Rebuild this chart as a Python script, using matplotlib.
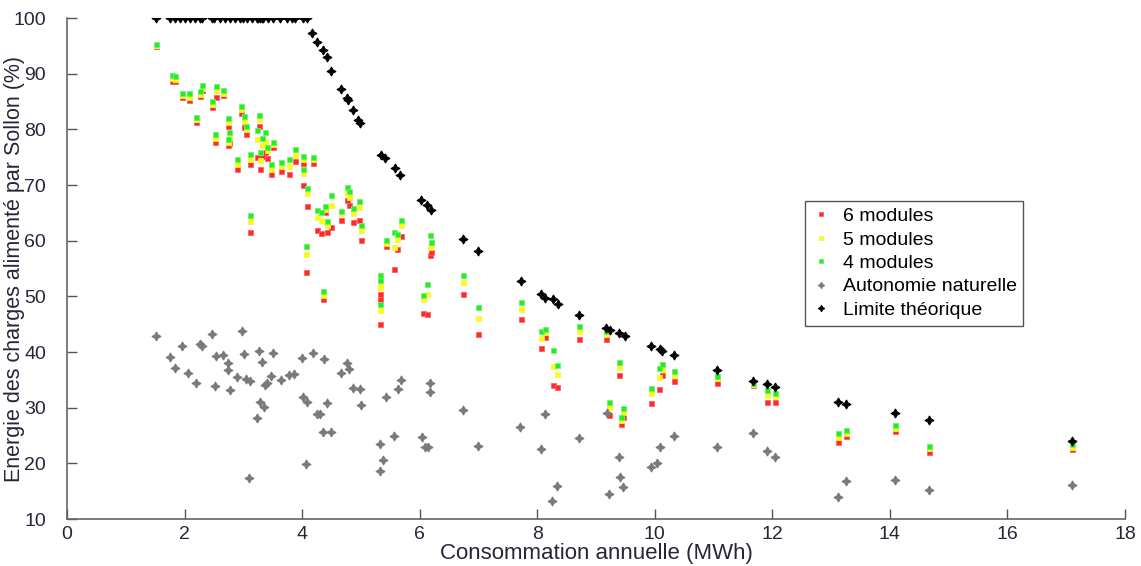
import matplotlib
matplotlib.use("Agg")
import matplotlib.pyplot as plt

plt.rcParams["font.family"] = ["Liberation Sans", "DejaVu Sans"]

# households with storage: consumption (MWh) and % energy supplied
x_mod = [1.52, 1.78, 1.84, 1.95, 2.07, 2.19, 2.27, 2.29, 2.46, 2.53, 2.52, 2.66,
         2.74, 2.76, 2.74, 2.89, 2.96, 3.01, 3.04, 3.11, 3.12, 3.24, 3.27, 3.29,
         3.31, 3.37, 3.41, 3.47, 3.50, 3.64, 3.78, 3.88, 4.01, 4.02, 4.06, 4.08,
         4.18, 4.25, 4.33, 4.35, 4.39, 4.42, 4.49, 4.67, 4.77, 4.79, 4.87, 4.97,
         5.00, 5.32, 5.33, 5.32, 5.43, 5.57, 5.62, 5.69, 6.05, 6.12, 6.18, 6.20,
         6.73, 7.00, 7.72, 8.07, 8.13, 8.26, 8.34, 8.71, 9.17, 9.22, 9.39, 9.42,
         9.46, 9.94, 10.07, 10.12, 10.32, 11.06, 11.67, 11.91, 12.04, 13.12,
         13.25, 14.08, 14.66, 17.09]
mod6 = [94.9, 88.7, 88.7, 85.9, 85.3, 81.4, 86.0, 87.1, 84.1, 85.8, 77.8, 86.2,
        80.6, 77.5, 77.2, 72.9, 83.0, 80.5, 79.2, 61.6, 73.7, 75.0, 80.7, 72.8,
        75.3, 76.0, 74.8, 72.0, 76.8, 72.6, 72.0, 74.3, 73.9, 70.0, 54.3, 66.2,
        74.0, 61.9, 61.4, 49.6, 65.2, 61.6, 62.5, 63.8, 67.3, 66.4, 63.3, 63.7,
        60.2, 50.4, 49.5, 45.0, 59.0, 54.9, 58.6, 60.8, 47.1, 46.8, 57.4, 58.0,
        50.5, 43.2, 45.9, 40.8, 42.7, 34.1, 33.8, 42.3, 42.3, 28.7, 35.9, 27.1,
        28.3, 30.8, 33.4, 35.9, 34.8, 34.5, 34.0, 31.1, 31.1, 23.9,
        24.9, 25.8, 22.1, 22.5]
mod5 = [95.1, 89.2, 89.1, 86.2, 85.9, 81.9, 86.4, 87.5, 84.6, 87.0, 78.5, 86.6,
        81.3, 78.6, 77.8, 73.8, 83.6, 81.6, 80.0, 63.6, 74.6, 78.3, 81.8, 74.5,
        77.2, 78.0, 76.3, 72.8, 77.3, 73.4, 73.5, 75.4, 74.6, 72.1, 57.6, 68.5,
        74.6, 64.2, 63.7, 50.3, 65.7, 62.8, 66.4, 64.9, 68.5, 67.9, 65.0, 66.1,
        61.9, 52.5, 51.7, 47.5, 59.6, 58.8, 60.4, 62.8, 49.5, 50.5, 58.9, 59.5,
        52.6, 46.1, 47.7, 42.6, 43.6, 37.5, 36.1, 43.8, 43.3, 30.2, 37.4, 27.8,
        29.2, 32.6, 35.5, 36.9, 35.9, 35.3, 34.2, 32.3, 32.1, 24.7,
        25.4, 26.3, 22.7, 23.0]
mod4 = [95.3, 89.8, 89.6, 86.5, 86.5, 82.3, 86.9, 88.0, 85.1, 87.8, 79.2, 87.1,
        82.1, 79.6, 78.2, 74.7, 84.2, 82.4, 80.7, 64.6, 75.5, 79.9, 82.6, 75.9,
        78.4, 79.6, 76.9, 73.7, 77.8, 74.2, 74.6, 76.5, 75.2, 72.8, 59.1, 69.4,
        75.1, 65.5, 65.2, 51.0, 66.2, 63.6, 68.2, 65.4, 69.6, 69.0, 65.8, 67.2,
        62.8, 53.8, 52.9, 48.6, 60.2, 61.6, 61.3, 63.8, 50.2, 52.2, 61.0, 59.8,
        53.8, 48.1, 49.0, 43.8, 44.2, 40.4, 37.7, 44.7, 43.8, 31.0, 38.3, 28.4,
        29.9, 33.5, 37.1, 37.8, 36.6, 35.7, 34.4, 33.1, 32.7, 25.5,
        26.0, 26.9, 23.1, 23.5]

# natural autonomy (no storage)
x_nat = [1.51, 1.76, 1.84, 1.95, 2.06, 2.19, 2.26, 2.30, 2.46, 2.52, 2.53, 2.66,
         2.74, 2.74, 2.77, 2.89, 2.97, 3.01, 3.04, 3.12, 3.10, 3.27, 3.31, 3.28,
         3.36, 3.23, 3.37, 3.41, 3.47, 3.50, 3.64, 3.78, 3.87, 4.00, 4.01, 4.08,
         4.06, 4.18, 4.25, 4.31, 4.35, 4.50, 4.38, 4.42, 4.67, 4.77, 4.80, 4.87,
         4.98, 5.00, 5.32, 5.37, 5.32, 5.43, 5.56, 5.63, 5.68, 6.04, 6.09, 6.14,
         6.18, 6.18, 6.74, 7.00, 7.70, 8.07, 8.13, 8.34, 8.25, 8.71, 9.18, 9.22,
         9.39, 9.40, 9.46, 9.94, 10.04, 10.09, 10.32, 11.06, 11.67, 11.91, 12.04,
         13.12, 13.25, 14.08, 14.66, 17.09]
nat = [42.8, 39.2, 37.2, 41.1, 36.3, 34.4, 41.4, 41.1, 43.2, 33.9, 39.3, 39.5,
       38.1, 36.8, 33.1, 35.5, 43.8, 39.6, 35.1, 34.8, 17.3, 40.2, 38.3, 31.1,
       30.1, 28.1, 34.1, 34.5, 35.7, 39.8, 35.0, 35.9, 36.1, 38.9, 32.0, 31.1,
       19.9, 39.8, 28.8, 28.9, 25.7, 25.7, 38.7, 30.8, 36.2, 38.0, 36.9, 33.6,
       33.3, 30.4, 23.5, 20.6, 18.7, 32.0, 24.9, 33.4, 35.0, 24.7, 23.0, 23.0,
       34.5, 32.9, 29.6, 23.1, 26.6, 22.5, 28.8, 16.0, 13.3, 24.6, 29.0, 14.5,
       21.2, 17.6, 15.8, 19.4, 20.1, 22.9, 25.0, 22.9, 25.4, 22.3, 21.1,
       14.0, 16.9, 17.0, 15.3, 16.1]

# theoretical limit
x_lim = [1.52, 1.75, 1.84, 1.92, 2.01, 2.09, 2.18, 2.26, 2.29, 2.46, 2.50, 2.60,
         2.69, 2.77, 2.86, 2.94, 3.00, 3.06, 3.14, 3.23, 3.25, 3.28, 3.31, 3.33,
         3.42, 3.50, 3.62, 3.74, 3.82, 3.88, 4.01, 4.08,
         4.17, 4.25, 4.36, 4.42, 4.50, 4.67, 4.76, 4.78, 4.87, 4.95, 4.98,
         5.35, 5.41, 5.58, 5.66, 6.03, 6.12, 6.20, 6.73, 7.00, 7.72, 8.07, 8.13,
         8.26, 8.36, 8.71, 9.17, 9.24, 9.39, 9.49, 9.94, 10.09, 10.13, 10.32,
         11.06, 11.67, 11.91, 12.04, 13.12, 13.25, 14.08, 14.66, 17.09]
lim = [100] * 32 + [
       97.4, 95.7, 94.3, 93.0, 90.5, 87.2, 85.6, 85.2, 83.5, 81.7, 81.2,
       75.4, 74.8, 73.0, 71.8, 67.3, 66.4, 65.5, 60.3, 58.2, 52.8, 50.4, 49.8,
       49.5, 48.6, 46.6, 44.4, 44.0, 43.4, 42.8, 41.0, 40.5, 40.1, 39.5,
       36.8, 34.8, 34.3, 33.8, 31.1, 30.7, 29.0, 27.8, 24.0]

text_color = "#26263a"
star = (4, 1, 0)

fig = plt.figure(figsize=(11.41, 5.66), dpi=100)
ax = fig.add_axes([0.0587, 0.083, 0.9273, 0.885])

sq = dict(marker="s", linestyle="none", markersize=3.6, markeredgewidth=0.6)
ax.plot(x_mod, mod6, color="#ff2a2a", markeredgecolor="#ff6060", label="6 modules", **sq)
ax.plot(x_mod, mod5, color="#ffff00", markeredgecolor="#f4f060", label="5 modules", **sq)
ax.plot(x_mod, mod4, color="#22ee22", markeredgecolor="#70f070", label="4 modules", **sq)
ax.plot(x_nat, nat, marker=star, linestyle="none", markersize=6.5, color="#7a7a7a",
        markeredgewidth=0.8, label="Autonomie naturelle")
ax.plot(x_lim, lim, marker=star, linestyle="none", markersize=6.5, color="black",
        markeredgewidth=0.8, label="Limite théorique")

ax.set_xlim(0, 18)
ax.set_ylim(10, 100)
ax.set_xticks(range(0, 19, 2))
ax.set_yticks(range(10, 101, 10))
ax.tick_params(direction="in", length=7, width=1, color="#555555",
               labelsize=14, labelcolor=text_color)
ax.tick_params(axis="y", pad=15)
ax.tick_params(axis="x", pad=5)
for side in ("top", "right"):
    ax.spines[side].set_visible(False)
for side in ("left", "bottom"):
    ax.spines[side].set_color("#666666")
    ax.spines[side].set_linewidth(1.2)

ax.set_xlabel("Consommation annuelle (MWh)", fontsize=16, color=text_color, labelpad=0)
ax.set_ylabel("Energie des charges alimenté par Sollon (%)", fontsize=15.5,
              color=text_color)
ax.yaxis.set_label_coords(-0.0395, 0.5)

leg = ax.legend(loc="upper left", bbox_to_anchor=(0.6968, 0.6626),
                bbox_transform=fig.transFigure, fontsize=14, frameon=True,
                fancybox=False, edgecolor="#555555", framealpha=1,
                labelspacing=0.3, handlelength=1.0, handletextpad=0.6,
                borderpad=0.35, markerscale=0.7)
leg.get_frame().set_linewidth(1.0)

fig.savefig("out.png", dpi=100)
